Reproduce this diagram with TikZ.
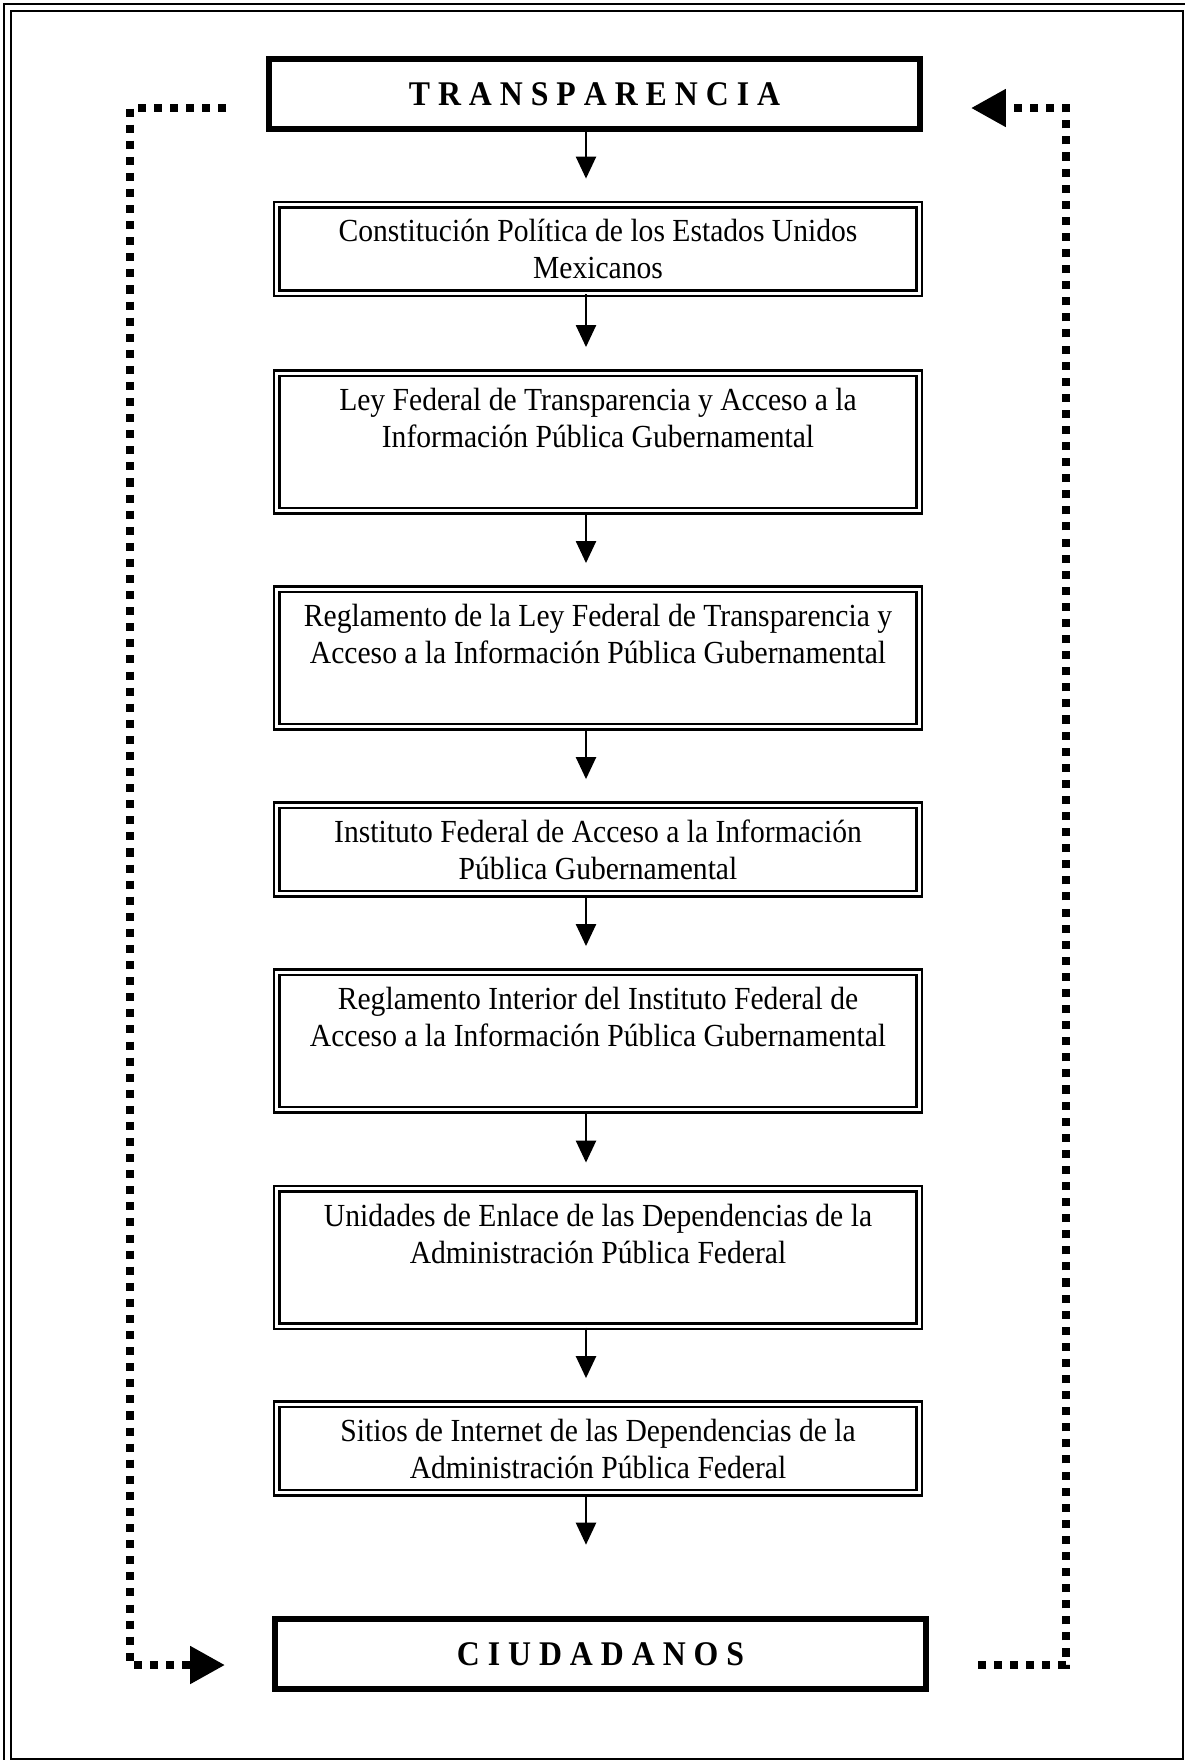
\documentclass[tikz,border=0pt]{standalone}
\usepackage{fontspec}
\setmainfont[FakeStretch=0.92]{Liberation Serif}
\usetikzlibrary{arrows.meta,calc,positioning}

\begin{document}
\begin{tikzpicture}[x=0.373pt,y=-0.373pt,
    thickbox/.style={draw,line width=2.24pt,minimum width=242.8pt,minimum height=26.1pt,inner sep=0pt,font=\fontsize{12.9}{14}\selectfont\bfseries},
    dblbox/.style={draw,double,line width=0.93pt,double distance=1.12pt,minimum width=239.5pt,inner sep=0pt,align=center,font=\fontsize{12}{13.8}\selectfont},
    shortbox/.style={dblbox,minimum height=33pt},
    tallbox/.style={dblbox,minimum height=51.3pt},
    arr/.style={-{Triangle[length=8.2pt,width=7.5pt]},line width=0.75pt,shorten >=9.3pt},
    dotarr/.style={-{Triangle[length=13pt,width=13.4pt]},line width=3pt,dash pattern=on 3pt off 3pt}]
  \useasboundingbox (0,0) rectangle (1185,1760);
  % frame
  \draw[line width=0.6pt] (4,4) rectangle (1200,1775);
  \draw[line width=1.1pt] (11,11) rectangle (1183,1759);

  \node[thickbox] (transp) at (594.5,94) {T R A N S P A R E N C I A};
  \node[shortbox] (constit) at (598,249) {Constitución Política de los Estados Unidos\\Mexicanos};
  \node[tallbox] (ley) at (598,442) {Ley Federal de Transparencia y Acceso a la\\Información Pública Gubernamental\\\strut};
  \node[tallbox] (regley) at (598,658) {Reglamento de la Ley Federal de Transparencia y\\Acceso a la Información Pública Gubernamental\\\strut};
  \node[shortbox] (ifai) at (598,849.5) {Instituto Federal de Acceso a la Información\\Pública Gubernamental};
  \node[tallbox] (regint) at (598,1041) {Reglamento Interior del Instituto Federal de\\Acceso a la Información Pública Gubernamental\\\strut};
  \node[tallbox] (unidades) at (598,1257.5) {Unidades de Enlace de las Dependencias de la\\Administración Pública Federal\\\strut};
  \node[shortbox] (sitios) at (598,1448.5) {Sitios de Internet de las Dependencias de la\\Administración Pública Federal};
  \node[thickbox] (ciud) at (600.5,1654) {C I U D A D A N O S};

  \coordinate (ax) at (586,0);
  \draw[arr] (transp.south -| ax) -- (constit.north -| ax);
  \draw[arr] (constit.south -| ax) -- (ley.north -| ax);
  \draw[arr] (ley.south -| ax) -- (regley.north -| ax);
  \draw[arr] (regley.south -| ax) -- (ifai.north -| ax);
  \draw[arr] (ifai.south -| ax) -- (regint.north -| ax);
  \draw[arr] (regint.south -| ax) -- (unidades.north -| ax);
  \draw[arr] (unidades.south -| ax) -- (sitios.north -| ax);
  \draw[arr,shorten >=26.6pt] (sitios.south -| ax) -- (ciud.north -| ax);

  % dotted loop
  \coordinate (ltop) at (226,108);
  \coordinate (lcorner) at (130,1665);
  \coordinate (lend) at (225,1665);
  \coordinate (rbot) at (978,1665);
  \coordinate (rcorner) at (1066,108);
  \coordinate (rend) at (971,108);
  \draw[dotarr] (ltop) -| (lcorner) -- (lend);
  \draw[dotarr] (rbot) -| (rcorner) -- (rend);
\end{tikzpicture}
\end{document}
